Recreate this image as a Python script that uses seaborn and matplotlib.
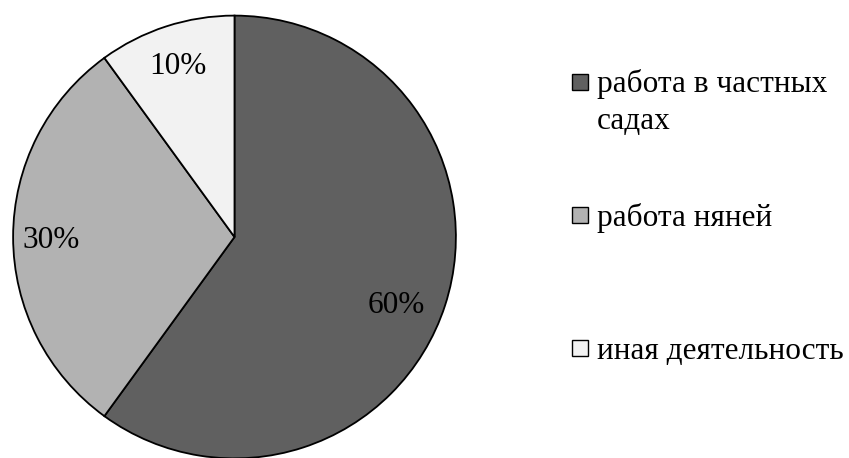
import matplotlib
matplotlib.use("Agg")
import matplotlib.pyplot as plt
import numpy as np
import seaborn as sns
from matplotlib.patches import Rectangle

categories = ["работа в частных\nсадах", "работа няней", "иная деятельность"]
values = [60, 30, 10]
colors = ["#606060", "#b2b2b2", "#f2f2f2"]

sns.set_theme(style="white")
plt.rcParams['font.family'] = ['Liberation Serif', 'DejaVu Serif']

fig = plt.figure(figsize=(8.49, 4.58), dpi=100)
W, H = 849, 458
cx, cy, r = 234.5, 237, 222.5
ax = fig.add_axes([(cx - r) / W, (H - cy - r) / H, 2 * r / W, 2 * r / H])
wedges, texts, autotexts = ax.pie(
    values, colors=colors, startangle=90, counterclock=False,
    autopct=lambda p: f"{p:.0f}%", pctdistance=0.8,
    wedgeprops=dict(edgecolor="black", linewidth=1.3),
    textprops=dict(fontsize=22.5, color="black"),
    radius=1, frame=False)

# "best fit" style placement of the percentage labels
label_r = [0.786, 0.829, 0.827]
label_dtheta = [-3.8, 0.0, 0.0]
for w, t, lr, dth in zip(wedges, autotexts, label_r, label_dtheta):
    th = np.deg2rad((w.theta1 + w.theta2) / 2 + dth)
    t.set_position((lr * np.cos(th), lr * np.sin(th)))
    t.set_va("center_baseline")
    t.set_ha("center")

ax.set_xlim(-1.005, 1.005)
ax.set_ylim(-1.005, 1.005)
ax.set_aspect("auto")
ax.axis("off")

# legend (manual layout so the swatch aligns with the first text line)
sq = 16
x_sq = 572
x_txt = 597
y0, step = 82, 133
line_gap = 35.7
for i, (lab, col) in enumerate(zip(categories, colors)):
    yc = y0 + i * step
    fig.add_artist(Rectangle((x_sq / W, 1 - (yc + sq / 2) / H), sq / W, sq / H,
                             transform=fig.transFigure, facecolor=col,
                             edgecolor="black", linewidth=1.0))
    nextra = lab.count("\n")
    fig.text(x_txt / W, 1 - (yc + 11 + nextra * line_gap) / H, lab,
             fontsize=22.5, va="baseline", ha="left", linespacing=1.37,
             color="black")

fig.savefig("out.png", dpi=100)
